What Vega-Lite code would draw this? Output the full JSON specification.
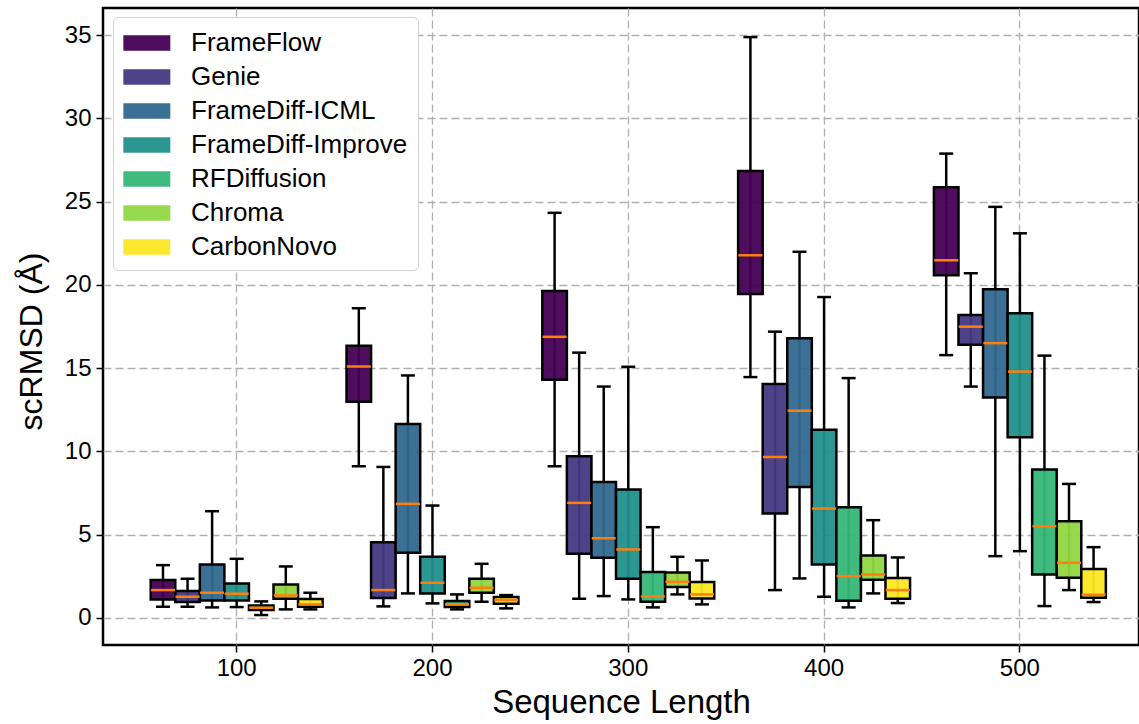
{
  "$schema": "https://vega.github.io/schema/vega-lite/v6.json",
  "width": 1036,
  "height": 637,
  "autosize": {"type": "none"},
  "padding": {"left": 103, "top": 8, "right": 0, "bottom": 79},
  "background": "white",
  "config": {
    "view": {"stroke": "black", "strokeWidth": 2.5},
    "font": "Liberation Sans",
    "axis": {
      "domain": false,
      "grid": true,
      "gridDash": [8, 4],
      "gridColor": "#b0b0b0",
      "gridWidth": 1.3,
      "tickColor": "black",
      "tickWidth": 1.5,
      "tickSize": 7,
      "labelFont": "Liberation Sans",
      "labelFontSize": 24,
      "labelColor": "black",
      "titleFont": "Liberation Sans",
      "titleFontWeight": "normal",
      "titleColor": "black"
    },
    "legend": {
      "labelFont": "Liberation Sans",
      "labelFontSize": 26,
      "labelColor": "black",
      "labelLimit": 500
    }
  },
  "data": {
    "values": [
      {"length": "100", "method": "FrameFlow", "lo": 0.66, "q1": 1.10, "med": 1.66, "q3": 2.26, "hi": 3.16},
      {"length": "100", "method": "Genie", "lo": 0.66, "q1": 0.94, "med": 1.26, "q3": 1.60, "hi": 2.34},
      {"length": "100", "method": "FrameDiff-ICML", "lo": 0.62, "q1": 1.04, "med": 1.50, "q3": 3.20, "hi": 6.40},
      {"length": "100", "method": "FrameDiff-Improve", "lo": 0.64, "q1": 1.04, "med": 1.44, "q3": 2.06, "hi": 3.54},
      {"length": "100", "method": "RFDiffusion", "lo": 0.16, "q1": 0.46, "med": 0.60, "q3": 0.74, "hi": 0.98},
      {"length": "100", "method": "Chroma", "lo": 0.50, "q1": 1.14, "med": 1.34, "q3": 2.00, "hi": 3.08},
      {"length": "100", "method": "CarbonNovo", "lo": 0.50, "q1": 0.66, "med": 0.80, "q3": 1.12, "hi": 1.50},
      {"length": "200", "method": "FrameFlow", "lo": 9.10, "q1": 12.98, "med": 15.09, "q3": 16.34, "hi": 18.60},
      {"length": "200", "method": "Genie", "lo": 0.68, "q1": 1.18, "med": 1.66, "q3": 4.54, "hi": 9.06},
      {"length": "200", "method": "FrameDiff-ICML", "lo": 1.46, "q1": 3.90, "med": 6.84, "q3": 11.64, "hi": 14.56},
      {"length": "200", "method": "FrameDiff-Improve", "lo": 0.86, "q1": 1.46, "med": 2.10, "q3": 3.66, "hi": 6.74},
      {"length": "200", "method": "RFDiffusion", "lo": 0.50, "q1": 0.64, "med": 0.80, "q3": 1.00, "hi": 1.40},
      {"length": "200", "method": "Chroma", "lo": 0.96, "q1": 1.50, "med": 1.80, "q3": 2.34, "hi": 3.24},
      {"length": "200", "method": "CarbonNovo", "lo": 0.56, "q1": 0.84, "med": 1.06, "q3": 1.24, "hi": 1.36},
      {"length": "300", "method": "FrameFlow", "lo": 9.10, "q1": 14.30, "med": 16.88, "q3": 19.63, "hi": 24.33},
      {"length": "300", "method": "Genie", "lo": 1.14, "q1": 3.84, "med": 6.90, "q3": 9.70, "hi": 15.93},
      {"length": "300", "method": "FrameDiff-ICML", "lo": 1.30, "q1": 3.60, "med": 4.78, "q3": 8.16, "hi": 13.89},
      {"length": "300", "method": "FrameDiff-Improve", "lo": 1.10, "q1": 2.34, "med": 4.10, "q3": 7.70, "hi": 15.08},
      {"length": "300", "method": "RFDiffusion", "lo": 0.62, "q1": 0.96, "med": 1.28, "q3": 2.74, "hi": 5.44},
      {"length": "300", "method": "Chroma", "lo": 1.40, "q1": 1.84, "med": 2.16, "q3": 2.72, "hi": 3.66},
      {"length": "300", "method": "CarbonNovo", "lo": 0.80, "q1": 1.16, "med": 1.40, "q3": 2.14, "hi": 3.44},
      {"length": "400", "method": "FrameFlow", "lo": 14.46, "q1": 19.45, "med": 21.78, "q3": 26.85, "hi": 34.89},
      {"length": "400", "method": "Genie", "lo": 1.66, "q1": 6.26, "med": 9.66, "q3": 14.04, "hi": 17.19},
      {"length": "400", "method": "FrameDiff-ICML", "lo": 2.36, "q1": 7.86, "med": 12.44, "q3": 16.80, "hi": 21.99},
      {"length": "400", "method": "FrameDiff-Improve", "lo": 1.26, "q1": 3.20, "med": 6.56, "q3": 11.30, "hi": 19.27},
      {"length": "400", "method": "RFDiffusion", "lo": 0.62, "q1": 1.02, "med": 2.50, "q3": 6.64, "hi": 14.40},
      {"length": "400", "method": "Chroma", "lo": 1.46, "q1": 2.28, "med": 2.60, "q3": 3.74, "hi": 5.86},
      {"length": "400", "method": "CarbonNovo", "lo": 0.88, "q1": 1.14, "med": 1.66, "q3": 2.38, "hi": 3.62},
      {"length": "500", "method": "FrameFlow", "lo": 15.78, "q1": 20.58, "med": 21.48, "q3": 25.87, "hi": 27.89},
      {"length": "500", "method": "Genie", "lo": 13.89, "q1": 16.40, "med": 17.49, "q3": 18.19, "hi": 20.70},
      {"length": "500", "method": "FrameDiff-ICML", "lo": 3.70, "q1": 13.23, "med": 16.50, "q3": 19.74, "hi": 24.69},
      {"length": "500", "method": "FrameDiff-Improve", "lo": 4.00, "q1": 10.84, "med": 14.79, "q3": 18.30, "hi": 23.10},
      {"length": "500", "method": "RFDiffusion", "lo": 0.70, "q1": 2.60, "med": 5.50, "q3": 8.90, "hi": 15.75},
      {"length": "500", "method": "Chroma", "lo": 1.66, "q1": 2.40, "med": 3.30, "q3": 5.80, "hi": 8.04},
      {"length": "500", "method": "CarbonNovo", "lo": 0.94, "q1": 1.20, "med": 1.38, "q3": 2.92, "hi": 4.24}
    ]
  },
  "encoding": {
    "x": {
      "field": "length",
      "type": "nominal",
      "sort": ["100", "200", "300", "400", "500"],
      "scale": {"paddingInner": 0.122, "paddingOuter": 0.2065, "align": 0.59},
      "axis": {"labelAngle": 0, "labelPadding": 4, "title": "Sequence Length", "titleFontSize": 33, "titlePadding": 6}
    },
    "xOffset": {
      "field": "method",
      "type": "nominal",
      "sort": ["FrameFlow", "Genie", "FrameDiff-ICML", "FrameDiff-Improve", "RFDiffusion", "Chroma", "CarbonNovo"],
      "scale": {"paddingInner": 0, "paddingOuter": 0}
    }
  },
  "layer": [
    {
      "mark": {"type": "rule", "color": "black", "strokeWidth": 2.5},
      "encoding": {
        "y": {
          "field": "lo",
          "type": "quantitative",
          "scale": {"domain": [-1.64, 36.64], "nice": false, "zero": false},
          "axis": {"values": [0, 5, 10, 15, 20, 25, 30, 35], "labelPadding": 5, "title": "scRMSD (Å)", "titleFontSize": 32, "titlePadding": 16, "titleY": 333}
        },
        "y2": {"field": "hi"}
      }
    },
    {
      "mark": {"type": "bar", "stroke": "black", "strokeWidth": 2.5, "width": {"band": 1}, "fillOpacity": 0.95, "strokeOpacity": 1},
      "encoding": {
        "y": {"field": "q1", "type": "quantitative"},
        "y2": {"field": "q3"},
        "color": {
          "field": "method",
          "type": "nominal",
          "scale": {
            "domain": ["FrameFlow", "Genie", "FrameDiff-ICML", "FrameDiff-Improve", "RFDiffusion", "Chroma", "CarbonNovo"],
            "range": ["#440154", "#443983", "#31688e", "#21918c", "#35b779", "#90d743", "#fde725"]
          },
          "legend": {
            "title": null,
            "orient": "none",
            "legendX": 10,
            "legendY": 9,
            "padding": 10,
            "fillColor": "white",
            "strokeColor": "#d0d0d0",
            "cornerRadius": 5,
            "symbolType": "M-1,-0.5H2V0.5H-1Z",
            "symbolSize": 981,
            "symbolStrokeWidth": 0,
            "symbolOpacity": 0.95,
            "labelOffset": 36,
            "rowPadding": 5
          }
        }
      }
    },
    {
      "mark": {"type": "tick", "color": "#ff7f0e", "thickness": 2.5, "size": 24, "opacity": 1},
      "encoding": {"y": {"field": "med", "type": "quantitative"}}
    },
    {
      "mark": {"type": "tick", "color": "black", "thickness": 2.5, "size": 14, "opacity": 1},
      "encoding": {"y": {"field": "lo", "type": "quantitative"}}
    },
    {
      "mark": {"type": "tick", "color": "black", "thickness": 2.5, "size": 14, "opacity": 1},
      "encoding": {"y": {"field": "hi", "type": "quantitative"}}
    }
  ]
}
